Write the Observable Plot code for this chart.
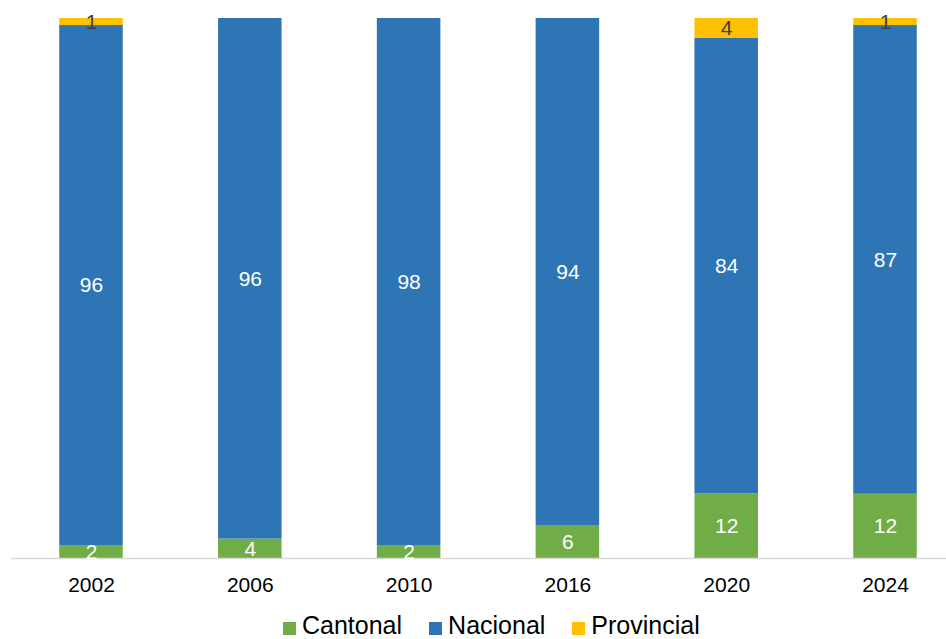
<!DOCTYPE html>
<html>
<head>
<meta charset="utf-8">
<script src="https://cdn.jsdelivr.net/npm/d3@7"></script>
<script src="https://cdn.jsdelivr.net/npm/@observablehq/plot@0.6"></script>
<style>
  body { margin: 0; background: #fff; font-family: "Liberation Sans", Arial, sans-serif; overflow: hidden; }
  #legend { display: flex; align-items: center; height: 22px; line-height: 22px; padding-top: 4px; margin-left: 283px; font-size: 25px; color: #000; }
  .item { display: flex; align-items: center; margin-right: 27px; }
  .sw { width: 13px; height: 13px; margin-right: 6px; position: relative; top: 3px; }
</style>
</head>
<body>
<div id="chart"></div>
<div id="legend"></div>
<script>
const years = ["2002", "2006", "2010", "2016", "2020", "2024"];
const series = ["Cantonal", "Nacional", "Provincial"];
const colors = ["#70AD47", "#2E75B6", "#FFC000"];
const labelColors = ["#ffffff", "#ffffff", "#404040"];
const cantonal   = [2.4, 3.6, 2.4, 6.1, 12.0, 11.9];
const nacional   = [96.3, 96.4, 97.6, 93.9, 84.3, 86.8];
const provincial = [1.3, 0, 0, 0, 3.7, 1.3];

const values = [cantonal, nacional, provincial];
const data = [];
series.forEach((s, si) => {
  years.forEach((y, yi) => {
    data.push({year: y, series: s, value: values[si][yi]});
  });
});

const labelColor = d => labelColors[series.indexOf(d.series)];

const chart = Plot.plot({
  width: 946,
  height: 610,
  marginTop: 18,
  marginBottom: 52,
  marginLeft: 11,
  marginRight: 0,
  style: {fontFamily: "Liberation Sans, Arial, sans-serif", background: "#fff"},
  x: {domain: years, range: [11.6, 964.4], paddingInner: 0.6, paddingOuter: 0.3, round: false, label: null},
  y: {domain: [0, 100], axis: null},
  color: {domain: series, range: colors},
  marks: [
    Plot.barY(data, Plot.stackY({x: "year", y: "value", z: "series", fill: "series", order: series})),
    Plot.ruleY([0], {stroke: "#D9D9D9", strokeWidth: 1.5}),
    Plot.text(data, Plot.stackY({
      x: "year", y: "value", z: "series", order: series,
      filter: d => d.value > 0,
      text: d => String(Math.round(d.value)),
      fill: labelColor,
      fontSize: 21
    })),
    Plot.axisX({tickSize: 0, tickPadding: 19, fontSize: 21, fill: "#000", label: null})
  ]
});
document.getElementById("chart").appendChild(chart);

const legend = document.getElementById("legend");
series.forEach((s, i) => {
  const item = document.createElement("div");
  item.className = "item";
  const sw = document.createElement("span");
  sw.className = "sw";
  sw.style.background = colors[i];
  const t = document.createElement("span");
  t.textContent = s;
  item.appendChild(sw);
  item.appendChild(t);
  legend.appendChild(item);
});
</script>
</body>
</html>
